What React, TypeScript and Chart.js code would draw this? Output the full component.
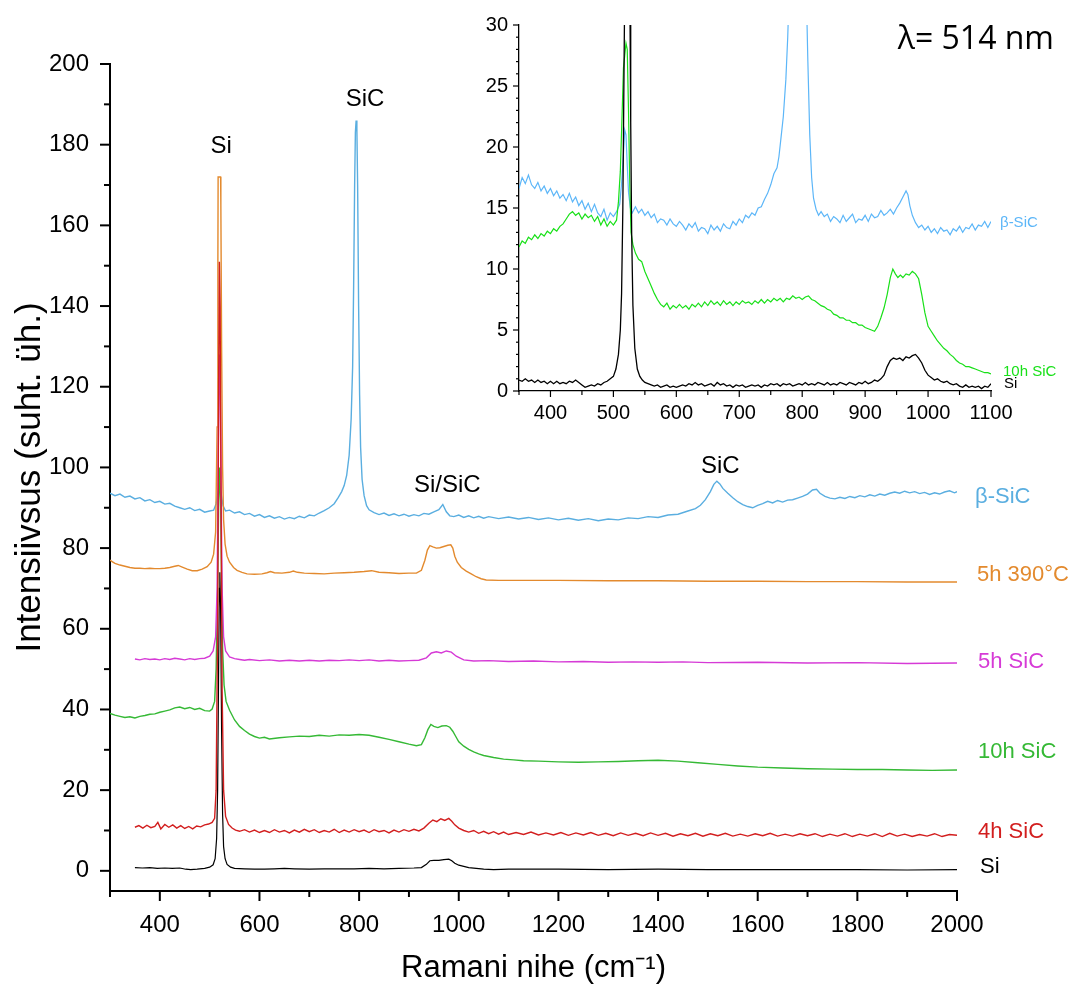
import React, { useEffect, useRef } from "react";
import { Chart, registerables } from "chart.js";

Chart.register(...registerables);

type Pt = [number, number];

// ---------- Main chart series (Raman shift cm-1, intensity) ----------
const BETA_SIC: Pt[] = [
  [300, 93.6], [310, 93.0], [320, 93.4], [330, 92.6], [340, 92.9], [350, 92.2], [360, 92.5], [370, 91.7], [380, 92.0], [390, 91.3],
  [400, 91.6], [410, 90.9], [420, 91.1], [430, 90.4], [440, 90.0], [450, 89.6], [460, 90.0], [470, 89.3], [480, 89.6], [490, 88.9],
  [500, 89.2], [508, 89.4], [513, 91.0], [517, 94.0], [520, 95.8], [523, 93.5], [527, 90.5], [532, 89.2], [540, 89.4], [550, 88.7],
  [560, 89.0], [570, 88.3], [580, 88.6], [590, 87.9], [600, 88.3], [610, 87.6], [620, 88.0], [630, 87.4], [640, 87.8], [650, 87.2],
  [660, 87.6], [670, 87.3], [680, 87.9], [690, 87.5], [700, 88.2], [710, 88.0], [720, 88.7], [730, 89.3], [740, 90.0], [750, 91.0],
  [758, 92.5], [765, 94.0], [770, 95.5], [775, 98], [780, 103], [784, 112], [787, 125], [789, 145], [791, 170], [792.5, 183],
  [794, 186], [795.5, 184], [797, 170], [799, 140], [801, 118], [803, 105], [806, 97], [810, 93], [815, 90.5], [820, 89.5],
  [830, 88.8], [840, 88.3], [850, 88.7], [860, 88.1], [870, 88.5], [880, 88.0], [890, 88.4], [900, 87.9], [910, 88.3], [920, 88.0],
  [930, 88.6], [940, 88.4], [950, 89.0], [960, 89.5], [968, 90.8], [975, 89.0], [982, 88.0], [990, 87.8], [1000, 88.2], [1010, 87.6],
  [1020, 88.0], [1030, 87.5], [1040, 87.9], [1050, 87.4], [1060, 87.8], [1080, 87.3], [1100, 87.7], [1120, 87.2], [1140, 87.6], [1160, 87.1],
  [1180, 87.5], [1200, 87.0], [1220, 87.4], [1240, 86.9], [1260, 87.3], [1280, 86.8], [1300, 87.2], [1320, 87.0], [1340, 87.5], [1360, 87.3],
  [1380, 87.8], [1400, 87.6], [1420, 88.2], [1440, 88.4], [1460, 89.2], [1475, 89.8], [1485, 90.6], [1495, 92.0], [1505, 94.0], [1512, 95.8],
  [1518, 96.6], [1524, 95.9], [1530, 94.8], [1540, 93.6], [1550, 92.5], [1560, 91.5], [1570, 90.8], [1580, 90.3], [1590, 90.0], [1600, 90.6],
  [1610, 91.0], [1620, 91.6], [1630, 91.2], [1640, 91.8], [1650, 91.4], [1660, 91.9], [1670, 92.0], [1680, 92.4], [1690, 92.8], [1700, 93.4],
  [1710, 94.4], [1718, 94.6], [1725, 93.6], [1735, 92.8], [1745, 92.4], [1755, 92.2], [1765, 92.6], [1775, 92.3], [1785, 92.8], [1795, 92.5],
  [1805, 93.0], [1815, 92.7], [1825, 93.2], [1835, 92.9], [1845, 93.4], [1855, 93.1], [1865, 93.6], [1875, 93.9], [1885, 93.6], [1895, 94.1],
  [1905, 93.7], [1915, 94.0], [1925, 93.5], [1935, 93.8], [1945, 93.3], [1955, 93.7], [1965, 93.4], [1975, 93.9], [1985, 94.2], [1995, 93.7],
  [2000, 94.0],
];

const H5_390C: Pt[] = [
  [300, 77.0], [305, 76.6], [310, 76.2], [320, 75.8], [330, 75.5], [340, 75.2], [350, 75.0], [360, 75.0], [370, 74.9], [380, 75.0],
  [390, 74.9], [400, 74.9], [410, 75.0], [420, 75.2], [430, 75.5], [437, 75.7], [445, 75.3], [455, 74.8], [465, 74.4], [475, 74.4],
  [485, 74.8], [495, 75.4], [503, 76.5], [508, 78.5], [512, 84], [515, 110], [516.5, 150], [517, 172], [522, 172], [522.5, 165],
  [524, 130], [526, 100], [528, 87], [531, 81], [535, 78], [540, 76.5], [548, 75.2], [555, 74.5], [565, 74.0], [575, 73.6],
  [590, 73.5], [605, 73.6], [615, 73.9], [622, 74.2], [630, 73.9], [645, 73.8], [660, 74.0], [668, 74.3], [676, 74.0], [690, 73.8],
  [710, 73.7], [730, 73.6], [750, 73.8], [770, 73.9], [790, 74.0], [810, 74.2], [825, 74.4], [840, 74.0], [860, 73.9], [880, 73.7],
  [900, 73.8], [915, 73.8], [925, 74.5], [932, 77], [937, 79.5], [942, 80.6], [948, 80.3], [955, 80.0], [962, 80.1], [970, 80.4],
  [978, 80.7], [984, 80.8], [988, 80.0], [992, 78.0], [997, 76.5], [1005, 75.2], [1015, 74.3], [1025, 73.6], [1035, 72.9], [1045, 72.4],
  [1055, 72.1], [1080, 72.0], [1120, 72.0], [1200, 72.0], [1300, 71.9], [1400, 71.9], [1500, 71.8], [1600, 71.8], [1700, 71.7], [1800, 71.7],
  [1900, 71.6], [2000, 71.6],
];

const H5_SIC: Pt[] = [
  [350, 52.5], [360, 52.3], [370, 52.6], [380, 52.4], [390, 52.5], [400, 52.3], [410, 52.6], [420, 52.4], [430, 52.7], [440, 52.5],
  [450, 52.3], [460, 52.6], [470, 52.4], [480, 52.6], [490, 52.7], [500, 53.2], [507, 54.5], [512, 58], [515, 70], [517, 100],
  [519, 125], [520, 128], [521, 122], [523, 95], [525, 70], [528, 58], [532, 54.5], [540, 53.0], [550, 52.6], [560, 52.4],
  [570, 52.2], [580, 52.4], [600, 52.1], [620, 52.3], [640, 52.0], [660, 52.2], [680, 52.0], [700, 52.2], [720, 52.0], [740, 52.2],
  [760, 52.1], [780, 52.3], [800, 52.1], [820, 52.3], [840, 52.0], [860, 52.2], [880, 52.0], [900, 52.1], [920, 52.2], [935, 52.8],
  [945, 54.0], [955, 54.3], [965, 54.0], [975, 54.5], [985, 54.2], [995, 53.2], [1010, 52.3], [1030, 52.0], [1060, 52.1], [1100, 51.9],
  [1150, 52.0], [1200, 51.8], [1250, 51.9], [1300, 51.7], [1350, 51.8], [1400, 51.7], [1450, 51.8], [1500, 51.6], [1600, 51.7], [1700, 51.5],
  [1800, 51.6], [1900, 51.4], [2000, 51.5],
];

const H10_SIC: Pt[] = [
  [300, 39.0], [310, 38.6], [320, 38.3], [330, 38.0], [340, 38.2], [350, 37.9], [360, 38.3], [370, 38.5], [380, 38.8], [390, 38.9],
  [400, 39.3], [410, 39.6], [420, 39.9], [430, 40.4], [440, 40.6], [450, 40.2], [460, 40.5], [470, 40.0], [480, 40.3], [490, 39.7],
  [500, 39.6], [505, 40.1], [510, 42], [513, 50], [516, 70], [518, 90], [520, 100], [522, 92], [524, 72], [526, 55],
  [529, 46], [533, 42], [540, 39.8], [550, 37.4], [560, 35.8], [570, 34.8], [580, 33.9], [590, 33.3], [600, 32.9], [610, 33.1],
  [620, 32.7], [640, 33.0], [660, 33.2], [680, 33.4], [700, 33.3], [720, 33.6], [740, 33.4], [760, 33.7], [780, 33.6], [800, 33.8],
  [820, 33.6], [840, 33.1], [860, 32.6], [880, 32.0], [900, 31.4], [915, 31.0], [925, 31.3], [932, 33.0], [938, 35.0], [944, 36.3],
  [950, 35.8], [958, 35.5], [966, 35.9], [975, 36.0], [982, 35.6], [988, 34.6], [994, 33.3], [1000, 32.0], [1010, 30.9], [1020, 30.1],
  [1030, 29.5], [1040, 29.0], [1050, 28.6], [1070, 28.1], [1090, 27.7], [1110, 27.5], [1130, 27.3], [1160, 27.2], [1200, 27.0], [1240, 26.9],
  [1280, 27.0], [1320, 27.1], [1360, 27.3], [1400, 27.4], [1440, 27.2], [1480, 26.8], [1520, 26.4], [1560, 26.0], [1600, 25.7], [1650, 25.5],
  [1700, 25.3], [1750, 25.2], [1800, 25.1], [1850, 25.1], [1900, 25.0], [1950, 24.9], [2000, 25.0],
];

const H4_SIC: Pt[] = [
  [350, 10.8], [358, 11.2], [366, 10.6], [374, 11.3], [382, 10.7], [390, 11.0], [396, 12.0], [402, 10.4], [410, 11.5], [418, 10.8],
  [426, 11.4], [434, 10.6], [442, 11.2], [450, 10.5], [458, 11.0], [466, 10.4], [474, 11.1], [482, 10.9], [490, 11.4], [498, 11.6],
  [505, 12.0], [510, 13], [513, 20], [516, 60], [518, 120], [519.5, 151], [521, 140], [523, 90], [525, 45], [528, 20],
  [532, 13.5], [538, 11.5], [545, 10.6], [552, 10.1], [560, 9.8], [570, 10.2], [580, 9.6], [590, 10.1], [600, 9.5], [610, 10.0],
  [620, 9.5], [630, 10.2], [640, 9.6], [650, 10.0], [660, 9.4], [670, 10.1], [680, 9.6], [690, 10.3], [700, 9.7], [710, 10.2],
  [720, 9.5], [730, 10.0], [740, 9.6], [750, 10.3], [760, 9.5], [770, 10.1], [780, 9.6], [790, 10.2], [800, 9.7], [810, 10.1],
  [820, 9.5], [830, 10.2], [840, 9.7], [850, 10.0], [860, 9.4], [870, 10.1], [880, 9.6], [890, 10.2], [900, 9.8], [910, 10.3],
  [920, 9.9], [930, 10.6], [940, 11.8], [948, 12.6], [956, 12.2], [964, 12.9], [972, 12.5], [980, 13.0], [986, 12.3], [992, 11.4],
  [1000, 10.6], [1010, 10.0], [1020, 9.6], [1030, 10.0], [1040, 9.3], [1050, 9.8], [1060, 9.2], [1070, 9.7], [1080, 9.1], [1090, 9.6],
  [1100, 9.0], [1115, 9.5], [1130, 9.0], [1145, 9.6], [1160, 8.9], [1175, 9.4], [1190, 8.9], [1205, 9.5], [1220, 8.8], [1235, 9.4],
  [1250, 8.9], [1265, 9.5], [1280, 8.8], [1295, 9.3], [1310, 8.7], [1325, 9.4], [1340, 8.8], [1355, 9.3], [1370, 8.7], [1385, 9.4],
  [1400, 8.8], [1415, 9.3], [1430, 8.6], [1445, 9.2], [1460, 8.7], [1475, 9.3], [1490, 8.6], [1505, 9.2], [1520, 8.7], [1535, 9.3],
  [1550, 8.6], [1565, 9.1], [1580, 8.6], [1595, 9.2], [1610, 8.7], [1625, 9.3], [1640, 8.6], [1655, 9.1], [1670, 8.6], [1685, 9.2],
  [1700, 8.7], [1715, 9.2], [1730, 8.5], [1745, 9.1], [1760, 8.6], [1775, 9.2], [1790, 8.5], [1805, 9.1], [1820, 8.6], [1835, 9.2],
  [1850, 8.5], [1865, 9.3], [1880, 8.6], [1895, 9.1], [1910, 8.5], [1925, 9.0], [1940, 8.6], [1955, 9.2], [1970, 8.5], [1985, 9.0],
  [2000, 8.8],
];

const SI: Pt[] = [
  [350, 0.8], [365, 0.7], [380, 0.8], [395, 0.6], [410, 0.7], [425, 0.6], [440, 0.7], [452, 0.4], [462, 0.3], [475, 0.4],
  [490, 0.6], [500, 0.9], [507, 1.5], [511, 3], [514, 8], [516, 20], [518, 50], [519.5, 70], [520.5, 74], [522, 65],
  [524, 35], [526, 14], [528, 6], [531, 3], [535, 1.6], [542, 0.9], [550, 0.6], [570, 0.5], [590, 0.4], [610, 0.4],
  [630, 0.5], [650, 0.6], [670, 0.5], [700, 0.4], [730, 0.5], [760, 0.5], [790, 0.5], [820, 0.6], [850, 0.5], [880, 0.6],
  [910, 0.7], [925, 0.8], [935, 1.6], [942, 2.5], [950, 2.6], [960, 2.6], [970, 2.8], [980, 2.9], [986, 2.5], [992, 1.9],
  [1000, 1.4], [1010, 1.1], [1020, 0.8], [1035, 0.6], [1050, 0.4], [1070, 0.3], [1100, 0.4], [1200, 0.4], [1300, 0.3], [1400, 0.4],
  [1500, 0.3], [1600, 0.3], [1700, 0.3], [1800, 0.3], [1900, 0.2], [2000, 0.3],
];

// ---------- Inset series ----------
const INSET_BETA_SIC: Pt[] = [
  [350, 16.6], [355, 17.5], [360, 17.0], [365, 17.7], [370, 16.9], [375, 16.6], [380, 17.1], [385, 16.4], [390, 16.8], [395, 16.2],
  [400, 16.6], [405, 16.0], [410, 16.4], [415, 15.8], [420, 16.1], [425, 15.6], [430, 16.2], [435, 15.5], [440, 15.9], [445, 15.2],
  [450, 15.6], [455, 14.9], [460, 15.4], [465, 14.7], [470, 15.3], [475, 14.6], [480, 14.3], [485, 14.9], [490, 14.0], [495, 14.6],
  [500, 14.3], [505, 14.7], [510, 15.3], [513, 17.0], [516, 19.5], [518, 21.4], [520, 21.0], [522, 18.5], [524, 16.3], [527, 15.0],
  [530, 14.6], [535, 15.1], [540, 14.6], [545, 14.9], [550, 14.4], [555, 14.7], [560, 14.2], [565, 14.5], [570, 13.8], [575, 14.1],
  [580, 14.0], [585, 13.6], [590, 14.1], [595, 13.7], [600, 13.5], [605, 13.9], [610, 13.6], [615, 13.2], [620, 13.7], [625, 13.4],
  [630, 13.8], [635, 13.1], [640, 13.4], [645, 13.3], [650, 12.9], [655, 13.6], [660, 13.2], [665, 13.5], [670, 13.1], [675, 13.7],
  [680, 13.4], [685, 13.3], [690, 13.9], [695, 13.6], [700, 14.1], [705, 13.8], [710, 14.4], [715, 14.2], [720, 14.6], [725, 14.4],
  [730, 15.0], [735, 15.1], [740, 15.7], [745, 16.2], [750, 16.9], [755, 17.8], [760, 18.3], [763, 19.2], [766, 20.6], [770, 22.5],
  [774, 25.5], [777, 29], [780, 34], [790, 45], [800, 45], [806, 34], [809, 27], [812, 21], [815, 17.5], [818, 15.8],
  [822, 14.9], [826, 14.4], [830, 14.7], [835, 14.3], [840, 14.5], [845, 13.9], [850, 14.3], [855, 14.1], [860, 13.8], [865, 14.4],
  [870, 13.9], [875, 14.2], [880, 14.5], [885, 13.8], [890, 14.1], [895, 14.0], [900, 14.4], [905, 13.9], [910, 14.5], [915, 14.2],
  [920, 14.3], [925, 14.8], [930, 14.4], [935, 14.6], [940, 14.9], [945, 14.5], [950, 15.0], [955, 15.4], [960, 15.9], [965, 16.4],
  [968, 16.1], [971, 15.2], [975, 14.4], [980, 13.8], [985, 13.4], [990, 13.6], [995, 13.2], [1000, 13.5], [1005, 13.0], [1010, 13.3],
  [1015, 12.9], [1020, 13.4], [1025, 13.1], [1030, 13.2], [1035, 12.8], [1040, 13.3], [1045, 13.1], [1050, 13.5], [1055, 13.0], [1060, 13.4],
  [1065, 13.3], [1070, 13.7], [1075, 13.2], [1080, 13.6], [1085, 13.5], [1090, 13.9], [1095, 13.4], [1100, 13.9],
];

const INSET_10H_SIC: Pt[] = [
  [350, 11.8], [355, 12.3], [360, 12.1], [365, 12.6], [370, 12.4], [375, 12.8], [380, 12.5], [385, 12.9], [390, 12.7], [395, 13.1],
  [400, 12.9], [405, 13.3], [410, 13.1], [415, 13.5], [420, 13.7], [425, 14.1], [430, 14.5], [435, 14.7], [440, 14.4], [445, 14.6],
  [450, 14.1], [455, 14.5], [460, 14.2], [465, 14.4], [470, 13.9], [475, 14.3], [480, 13.6], [485, 14.1], [490, 13.5], [495, 13.9],
  [500, 13.6], [505, 14.0], [508, 15.5], [511, 18], [514, 23], [516, 26.5], [518, 27.5], [520, 28.5], [522, 28], [524, 23],
  [526, 17], [528, 13], [531, 12.0], [535, 11.3], [540, 10.8], [545, 10.6], [550, 9.8], [555, 9.2], [560, 8.6], [565, 8.0],
  [570, 7.5], [575, 7.1], [580, 6.9], [585, 7.2], [590, 6.7], [595, 7.0], [600, 6.8], [605, 7.1], [610, 6.8], [615, 7.0],
  [620, 6.7], [625, 7.1], [630, 6.9], [635, 7.2], [640, 6.9], [645, 7.3], [650, 7.0], [655, 7.4], [660, 7.1], [665, 7.3],
  [670, 7.0], [675, 7.4], [680, 7.1], [685, 7.3], [690, 7.0], [695, 7.3], [700, 7.1], [705, 7.4], [710, 7.2], [715, 7.3],
  [720, 7.1], [725, 7.4], [730, 7.2], [735, 7.5], [740, 7.2], [745, 7.5], [750, 7.3], [755, 7.6], [760, 7.4], [765, 7.6],
  [770, 7.3], [775, 7.6], [780, 7.5], [785, 7.8], [790, 7.6], [795, 7.7], [800, 7.5], [805, 7.7], [810, 7.8], [815, 7.5],
  [820, 7.4], [825, 7.2], [830, 7.0], [835, 6.9], [840, 6.7], [845, 6.6], [850, 6.3], [855, 6.2], [860, 6.0], [865, 6.0],
  [870, 5.8], [875, 5.8], [880, 5.6], [885, 5.6], [890, 5.4], [895, 5.4], [900, 5.2], [905, 5.1], [910, 5.0], [915, 4.9],
  [920, 5.3], [925, 6.0], [930, 6.8], [935, 7.9], [940, 9.3], [944, 10.0], [948, 9.6], [952, 9.3], [956, 9.5], [960, 9.3],
  [965, 9.6], [970, 9.5], [975, 9.8], [980, 9.6], [985, 9.2], [990, 7.9], [995, 6.4], [1000, 5.3], [1005, 4.9], [1010, 4.5],
  [1015, 4.1], [1020, 3.8], [1025, 3.5], [1030, 3.3], [1035, 3.0], [1040, 2.8], [1045, 2.5], [1050, 2.3], [1055, 2.2], [1060, 2.0],
  [1065, 2.0], [1070, 1.9], [1075, 1.8], [1080, 1.7], [1085, 1.6], [1090, 1.5], [1095, 1.5], [1100, 1.4],
];

const INSET_SI: Pt[] = [
  [350, 0.9], [355, 0.8], [360, 1.0], [365, 0.8], [370, 0.9], [375, 0.7], [380, 0.9], [385, 0.7], [390, 0.8], [395, 0.6],
  [400, 0.8], [405, 0.6], [410, 0.8], [415, 0.6], [420, 0.7], [425, 0.6], [430, 0.8], [435, 0.7], [440, 0.9], [445, 0.7],
  [450, 0.5], [455, 0.3], [460, 0.4], [465, 0.5], [470, 0.4], [475, 0.6], [480, 0.5], [485, 0.7], [490, 0.8], [495, 1.0],
  [500, 1.2], [504, 1.8], [508, 3.0], [511, 5], [513, 8], [515, 15], [516.5, 24], [517.5, 30], [519, 45], [525, 45],
  [526.5, 30], [527.5, 22], [529, 13], [531, 7], [534, 3.5], [538, 1.8], [542, 1.2], [546, 0.9], [550, 0.7], [555, 0.6],
  [560, 0.5], [565, 0.4], [570, 0.5], [575, 0.3], [580, 0.4], [585, 0.5], [590, 0.3], [595, 0.4], [600, 0.3], [605, 0.4],
  [610, 0.5], [615, 0.4], [620, 0.6], [625, 0.5], [630, 0.7], [635, 0.5], [640, 0.6], [645, 0.4], [650, 0.5], [655, 0.6],
  [660, 0.4], [665, 0.7], [670, 0.5], [675, 0.6], [680, 0.4], [685, 0.5], [690, 0.3], [695, 0.5], [700, 0.4], [705, 0.5],
  [710, 0.3], [715, 0.4], [720, 0.5], [725, 0.4], [730, 0.5], [735, 0.3], [740, 0.5], [745, 0.4], [750, 0.6], [755, 0.5],
  [760, 0.6], [765, 0.4], [770, 0.6], [775, 0.5], [780, 0.6], [785, 0.4], [790, 0.5], [795, 0.6], [800, 0.5], [805, 0.7],
  [810, 0.5], [815, 0.6], [820, 0.5], [825, 0.7], [830, 0.6], [835, 0.5], [840, 0.7], [845, 0.5], [850, 0.6], [855, 0.5],
  [860, 0.7], [865, 0.6], [870, 0.5], [875, 0.7], [880, 0.6], [885, 0.5], [890, 0.7], [895, 0.6], [900, 0.8], [905, 0.6],
  [910, 0.7], [915, 0.9], [920, 0.8], [925, 1.0], [930, 1.3], [935, 2.0], [940, 2.5], [945, 2.7], [950, 2.6], [955, 2.7],
  [960, 2.5], [965, 2.8], [970, 2.7], [975, 2.9], [980, 3.0], [985, 2.7], [990, 2.3], [995, 1.7], [1000, 1.3], [1005, 1.1],
  [1010, 0.9], [1015, 1.0], [1020, 0.8], [1025, 0.7], [1030, 0.8], [1035, 0.6], [1040, 0.5], [1045, 0.6], [1050, 0.4], [1055, 0.3],
  [1060, 0.5], [1065, 0.3], [1070, 0.4], [1075, 0.3], [1080, 0.4], [1085, 0.2], [1090, 0.4], [1095, 0.3], [1100, 0.6],
];

// ---------- Text ----------
const X_TITLE = "Ramani nihe (cm⁻¹)";
const Y_TITLE = "Intensiivsus (suht. üh.)";
const LAMBDA_TEXT = "λ= 514 nm";

const FONT = "'Liberation Sans', Arial, Helvetica, sans-serif";

const C_BLUE = "#5aaee0";
const C_ORANGE = "#e38a2e";
const C_MAGENTA = "#d63ad6";
const C_GREEN = "#35b935";
const C_RED = "#d21e1e";
const C_BLACK = "#000000";
const C_INSET_BLUE = "#5cb6f8";
const C_INSET_GREEN = "#18e018";

type Label = {
  text: string;
  x: number;
  y: number;
  color: string;
  size: number;
  dx?: number;
  align?: CanvasTextAlign;
  family?: string;
};

const MAIN_LABELS: Label[] = [
  { text: "Si", x: 523, y: 179.5, color: "#000", size: 24, align: "center" },
  { text: "SiC", x: 812, y: 191.3, color: "#000", size: 24, align: "center" },
  { text: "Si/SiC", x: 977, y: 95.5, color: "#000", size: 24, align: "center" },
  { text: "SiC", x: 1525, y: 100.2, color: "#000", size: 24, align: "center" },
  { text: "β-SiC", x: 2000, dx: 18, y: 92.6, color: C_BLUE, size: 22, align: "left" },
  { text: "5h 390°C", x: 2000, dx: 20, y: 73.3, color: C_ORANGE, size: 22, align: "left" },
  { text: "5h SiC", x: 2000, dx: 21, y: 51.7, color: C_MAGENTA, size: 22, align: "left" },
  { text: "10h SiC", x: 2000, dx: 21, y: 29.5, color: C_GREEN, size: 22, align: "left" },
  { text: "4h SiC", x: 2000, dx: 21, y: 9.7, color: C_RED, size: 22, align: "left" },
  { text: "Si", x: 2000, dx: 23, y: 1.0, color: "#000", size: 22, align: "left" },
];

const INSET_LABELS: Label[] = [
  { text: "β-SiC", x: 1100, dx: 9, y: 13.8, color: C_INSET_BLUE, size: 15, align: "left" },
  { text: "10h SiC", x: 1100, dx: 12, y: 1.6, color: C_INSET_GREEN, size: 15, align: "left" },
  { text: "Si", x: 1100, dx: 13, y: 0.6, color: "#000", size: 15, align: "left" },
  { text: LAMBDA_TEXT, x: 1076, y: 28.8, color: "#000", size: 32, align: "center", family: "'Open Sans', 'Noto Sans', sans-serif" },
];

const toXY = (pts: Pt[]) => pts.map(([x, y]) => ({ x, y }));

function textPlugin(id: string, labels: Label[]) {
  return {
    id,
    afterDatasetsDraw(chart: any) {
      const ctx = chart.ctx as CanvasRenderingContext2D;
      const xs = chart.scales.x;
      const ys = chart.scales.y;
      ctx.save();
      for (const l of labels) {
        ctx.font = `${l.size}px ${l.family || FONT}`;
        ctx.fillStyle = l.color;
        ctx.textAlign = l.align || "center";
        ctx.textBaseline = "middle";
        ctx.fillText(l.text, xs.getPixelForValue(l.x) + (l.dx || 0), ys.getPixelForValue(l.y));
      }
      ctx.restore();
    },
  };
}

type TickCfg = { major: number; majorLen: number; minorLen: number; width: number };

function tickPlugin(id: string, cfg: Record<string, TickCfg>) {
  return {
    id,
    afterDraw(chart: any) {
      const ctx = chart.ctx as CanvasRenderingContext2D;
      ctx.save();
      ctx.strokeStyle = "#000";
      for (const sid of Object.keys(cfg)) {
        const sc = chart.scales[sid];
        const c = cfg[sid];
        ctx.lineWidth = c.width;
        for (const t of sc.ticks) {
          const r = t.value / c.major;
          const isMajor = Math.abs(r - Math.round(r)) < 1e-6;
          const len = isMajor ? c.majorLen : c.minorLen;
          const p = sc.getPixelForValue(t.value);
          ctx.beginPath();
          if (sc.isHorizontal()) {
            ctx.moveTo(p, sc.top);
            ctx.lineTo(p, sc.top + len);
          } else {
            ctx.moveTo(sc.right, p);
            ctx.lineTo(sc.right - len, p);
          }
          ctx.stroke();
        }
      }
      ctx.restore();
    },
  };
}

function lineDs(label: string, pts: Pt[], color: string, width: number, order: number) {
  return {
    label,
    data: toXY(pts),
    borderColor: color,
    backgroundColor: color,
    borderWidth: width,
    pointRadius: 0,
    showLine: true,
    tension: 0,
    order,
  };
}

export default function App() {
  const mainRef = useRef<HTMLCanvasElement>(null);
  const insetRef = useRef<HTMLCanvasElement>(null);

  useEffect(() => {
    document.body.style.margin = "0";
    document.body.style.background = "#fff";
    const mainChart = new Chart(mainRef.current as HTMLCanvasElement, {
      type: "scatter",
      data: {
        datasets: [
          lineDs("4h SiC", H4_SIC, C_RED, 1.4, 1),
          lineDs("5h SiC", H5_SIC, C_MAGENTA, 1.4, 2),
          lineDs("5h 390°C", H5_390C, C_ORANGE, 1.4, 3),
          lineDs("10h SiC", H10_SIC, C_GREEN, 1.4, 4),
          lineDs("Si", SI, C_BLACK, 1.2, 5),
          lineDs("β-SiC", BETA_SIC, C_BLUE, 1.4, 6),
        ] as any,
      },
      options: {
        animation: false,
        responsive: false,
        devicePixelRatio: 1,
        layout: { padding: { top: 64, right: 120, bottom: 0, left: 0 } },
        plugins: { legend: { display: false }, tooltip: { enabled: false } },
        events: [],
        scales: {
          x: {
            type: "linear",
            position: "bottom",
            min: 300,
            max: 2000,
            grid: { display: false, drawTicks: false },
            border: { display: true, color: "#000", width: 2 },
            ticks: {
              stepSize: 100,
              autoSkip: false,
              maxRotation: 0,
              padding: 20,
              color: "#000",
              font: { size: 24, family: FONT },
              callback: (v: any) => (Number(v) % 200 === 0 ? String(v) : ""),
            },
            title: {
              display: true,
              text: X_TITLE,
              color: "#000",
              font: { size: 31, family: FONT },
              padding: { top: 0, bottom: 3 },
            },
            afterFit: (s: any) => {
              s.height = 99;
            },
          },
          y: {
            type: "linear",
            position: "left",
            min: -5,
            max: 200,
            grid: { display: false, drawTicks: false },
            border: { display: true, color: "#000", width: 2 },
            ticks: {
              stepSize: 10,
              includeBounds: false,
              autoSkip: false,
              padding: 21,
              color: "#000",
              font: { size: 24, family: FONT },
              callback: (v: any) => (Number(v) % 20 === 0 ? String(v) : ""),
            },
            title: {
              display: true,
              text: Y_TITLE,
              color: "#000",
              font: { size: 35, family: FONT },
              padding: { top: 9, bottom: 0 },
            },
            afterFit: (s: any) => {
              s.width = 110;
            },
          },
        },
      } as any,
      plugins: [
        tickPlugin("mainTicks", {
          x: { major: 200, majorLen: 10, minorLen: 6, width: 2 },
          y: { major: 20, majorLen: 10, minorLen: 6, width: 2 },
        }),
        textPlugin("mainTexts", MAIN_LABELS),
      ],
    });

    const insetChart = new Chart(insetRef.current as HTMLCanvasElement, {
      type: "scatter",
      data: {
        datasets: [
          lineDs("Si", INSET_SI, C_BLACK, 1.3, 1),
          lineDs("10h SiC", INSET_10H_SIC, C_INSET_GREEN, 1.2, 2),
          lineDs("β-SiC", INSET_BETA_SIC, C_INSET_BLUE, 1.2, 3),
        ] as any,
      },
      options: {
        animation: false,
        responsive: false,
        devicePixelRatio: 1,
        layout: { padding: { top: 25, right: 86, bottom: 0, left: 0 } },
        plugins: { legend: { display: false }, tooltip: { enabled: false } },
        events: [],
        scales: {
          x: {
            type: "linear",
            position: "bottom",
            min: 350,
            max: 1100,
            grid: { display: false, drawTicks: false },
            border: { display: true, color: "#000", width: 1.3 },
            ticks: {
              stepSize: 50,
              autoSkip: false,
              maxRotation: 0,
              padding: 10,
              color: "#000",
              font: { size: 20, family: FONT },
              callback: (v: any) => (Number(v) % 100 === 0 ? String(v) : ""),
            },
            afterFit: (s: any) => {
              s.height = 39;
            },
          },
          y: {
            type: "linear",
            position: "left",
            min: 0,
            max: 30,
            grid: { display: false, drawTicks: false },
            border: { display: true, color: "#000", width: 1.3 },
            ticks: {
              stepSize: 1,
              autoSkip: false,
              padding: 11,
              color: "#000",
              font: { size: 20, family: FONT },
              callback: (v: any) => (Number(v) % 5 === 0 ? String(v) : ""),
            },
            afterFit: (s: any) => {
              s.width = 79;
            },
          },
        },
      } as any,
      plugins: [
        tickPlugin("insetTicks", {
          x: { major: 100, majorLen: 6, minorLen: 4, width: 1.2 },
          y: { major: 5, majorLen: 6, minorLen: 3, width: 1.2 },
        }),
        textPlugin("insetTexts", INSET_LABELS),
      ],
    });

    return () => {
      mainChart.destroy();
      insetChart.destroy();
    };
  }, []);

  return (
    <div style={{ position: "relative", width: 1077, height: 990, background: "#fff" }}>
      <canvas
        ref={mainRef}
        width={1077}
        height={990}
        style={{ position: "absolute", left: 0, top: 0, width: 1077, height: 990 }}
      />
      <canvas
        ref={insetRef}
        width={637}
        height={430}
        style={{ position: "absolute", left: 440, top: 0, width: 637, height: 430 }}
      />
    </div>
  );
}
